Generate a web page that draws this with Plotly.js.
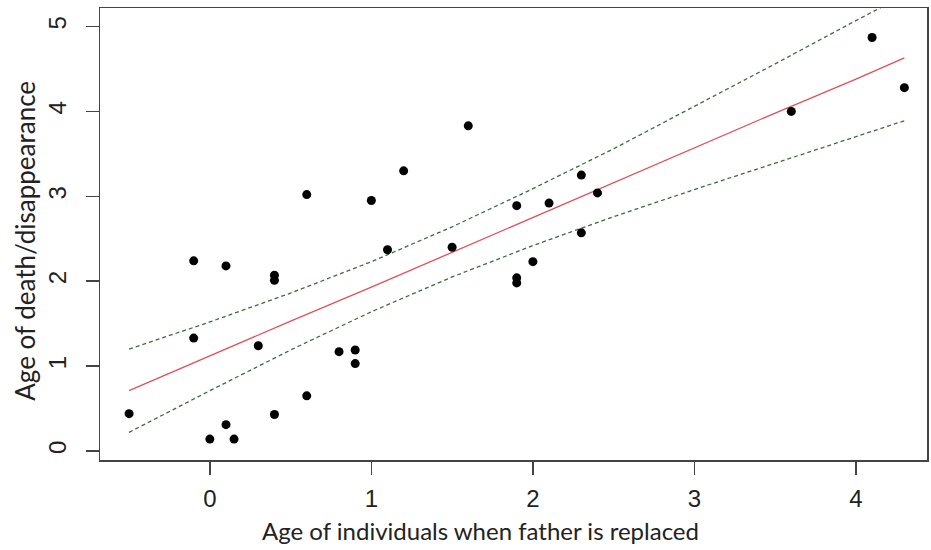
<!DOCTYPE html>
<html>
<head>
<meta charset="utf-8">
<script src="https://cdn.plot.ly/plotly-3.0.1.min.js"></script>
<style>html,body{margin:0;padding:0;background:#fff;}#chart{width:931px;height:550px;}</style>
</head>
<body>
<div id="chart"></div>
<script>
// Observed points: age when father replaced (x) vs age of death/disappearance (y)
const ageReplaced = [-0.5, -0.1, -0.1, 0, 0.1, 0.1, 0.15, 0.3, 0.4, 0.4, 0.4, 0.6, 0.6, 0.8, 0.9, 0.9,
                     1.0, 1.1, 1.2, 1.5, 1.6, 1.9, 1.9, 1.9, 2.0, 2.1, 2.3, 2.3, 2.4, 3.6, 4.1, 4.3];
const ageDeath    = [0.44, 2.24, 1.33, 0.14, 0.31, 2.18, 0.14, 1.24, 0.43, 2.01, 2.07, 0.65, 3.02, 1.17, 1.19, 1.03,
                     2.95, 2.37, 3.30, 2.40, 3.83, 2.89, 2.04, 1.98, 2.23, 2.92, 3.25, 2.57, 3.04, 4.00, 4.87, 4.28];

// Fitted regression line and confidence band
const bandX   = [-0.5, 0, 0.5, 1.0, 1.5, 2.0, 2.5, 3.0, 3.5, 4.0, 4.3];
const fitY    = [0.71, 1.12, 1.53, 1.93, 2.34, 2.75, 3.16, 3.57, 3.98, 4.38, 4.63];
const upperY  = [1.20, 1.52, 1.86, 2.23, 2.64, 3.09, 3.56, 4.06, 4.56, 5.07, 5.37];
const lowerY  = [0.22, 0.71, 1.19, 1.64, 2.05, 2.42, 2.76, 3.08, 3.39, 3.70, 3.89];

const xTicks = [0, 1, 2, 3, 4];
const yTicks = [0, 1, 2, 3, 4, 5];

const xTitle = 'Age of individuals when father is replaced';
const yTitle = 'Age of death/disappearance';

const dashStyle = {color: '#3b6e3b', width: 1.3, dash: '4px,3px'};

const traces = [
  {x: bandX, y: upperY, mode: 'lines', line: dashStyle, hoverinfo: 'skip'},
  {x: bandX, y: lowerY, mode: 'lines', line: dashStyle, hoverinfo: 'skip'},
  {x: bandX, y: fitY, mode: 'lines', line: {color: '#e0505a', width: 1.3}, hoverinfo: 'skip'},
  {x: ageReplaced, y: ageDeath, mode: 'markers', marker: {color: '#000', size: 9}, cliponaxis: true}
];

const tickFont = {family: 'Liberation Sans, Arial, sans-serif', size: 24, color: '#222'};

const layout = {
  width: 931, height: 550,
  margin: {l: 100, r: 4, t: 8, b: 90},
  paper_bgcolor: '#fff', plot_bgcolor: '#fff',
  showlegend: false,
  xaxis: {
    range: [-0.68, 4.44], tickvals: xTicks, ticktext: xTicks.map(String),
    showgrid: false, zeroline: false,
    showline: true, mirror: true, linecolor: '#444', linewidth: 1.5,
    ticks: 'outside', ticklen: 13, tickwidth: 1.5, tickcolor: '#444',
    tickfont: tickFont, ticklabelstandoff: 4
  },
  yaxis: {
    range: [-0.106, 5.218], tickvals: yTicks, ticktext: yTicks.map(String),
    showgrid: false, zeroline: false,
    showline: true, mirror: true, linecolor: '#444', linewidth: 1.5,
    ticks: 'outside', ticklen: 13, tickwidth: 1.5, tickcolor: '#444',
    tickangle: -90, tickfont: tickFont, ticklabelstandoff: 10
  },
  annotations: [
    {text: xTitle, xref: 'paper', yref: 'paper', x: 0.4595, y: 0, yshift: -70,
     xanchor: 'center', yanchor: 'middle', showarrow: false,
     font: {family: 'Lato, Open Sans, sans-serif', size: 24, color: '#222'}},
    {text: yTitle, xref: 'paper', yref: 'paper', x: 0, y: 0.485, xshift: -75,
     xanchor: 'center', yanchor: 'middle', showarrow: false, textangle: -90,
     font: {family: 'Lato, Open Sans, sans-serif', size: 26, color: '#222'}}
  ]
};

Plotly.newPlot('chart', traces, layout, {displayModeBar: false, staticPlot: true});
</script>
</body>
</html>
